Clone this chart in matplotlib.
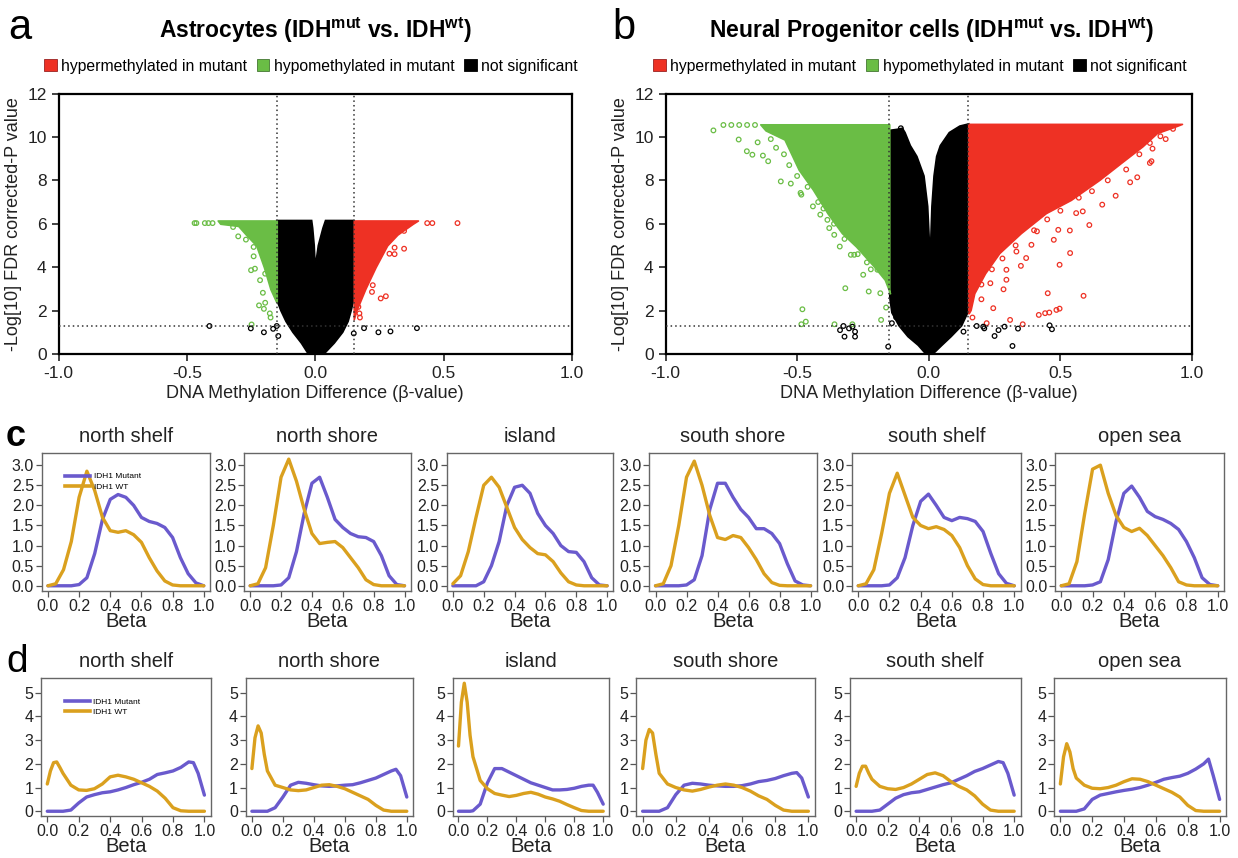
import numpy as np
import matplotlib
matplotlib.use("Agg")
import matplotlib.pyplot as plt
from matplotlib.patches import Patch
from matplotlib.lines import Line2D

plt.rcParams['font.family'] = ['Liberation Sans', 'DejaVu Sans']
plt.rcParams['mathtext.fontset'] = 'custom'
plt.rcParams['mathtext.rm'] = 'Liberation Sans'
plt.rcParams['mathtext.bf'] = 'Liberation Sans:bold'

RED = "#ee3124"
GREEN = "#6abd45"
PURPLE = "#6a5acd"
GOLD = "#daa01e"

# ---------------- volcano data (panel a: astrocytes) ----------------
# outline of the dense black (not significant) cloud, walked round from bottom-left
a_black_x = [-0.027, -0.054, -0.087, -0.114, -0.134, -0.15, -0.15, -0.014, -0.01, -0.004, 0.0,
             0.012, 0.03, 0.04, 0.15, 0.15, 0.14, 0.128, 0.107, 0.074, 0.034]
a_black_y = [0, 0.5, 1.0, 1.5, 2.0, 2.5, 6.15, 6.15, 5.8, 5.0, 4.0,
             5.0, 5.8, 6.15, 6.15, 2.5, 2.0, 1.5, 1.0, 0.5, 0]
a_green_y = [2.4, 3.0, 4.0, 5.0, 5.5, 5.9, 6.0, 6.15]
a_green_left = [-0.152, -0.175, -0.2, -0.23, -0.27, -0.30, -0.37, -0.38]
a_red_y = [1.6, 2.0, 3.0, 4.0, 5.0, 5.5, 6.0, 6.15]
a_red_right = [0.15, 0.16, 0.195, 0.235, 0.28, 0.32, 0.38, 0.40]
a_green_pts_x = [-0.47, -0.463, -0.43, -0.416, -0.40, -0.32, -0.30, -0.27, -0.24, -0.24,
                 -0.25, -0.235, -0.204, -0.219, -0.195, -0.2, -0.177, -0.174, -0.248, -0.215, -0.195]
a_green_pts_y = [6.03, 6.03, 6.03, 6.03, 6.03, 5.85, 5.42, 5.27, 4.93, 4.5,
                 3.86, 3.93, 2.82, 2.24, 2.36, 2.08, 1.87, 1.68, 1.36, 3.4, 3.7]
a_red_pts_x = [0.554, 0.456, 0.436, 0.346, 0.346, 0.309, 0.289, 0.309, 0.275, 0.255,
               0.224, 0.221, 0.168, 0.172, 0.174, 0.195]
a_red_pts_y = [6.03, 6.03, 6.03, 5.67, 4.85, 4.9, 4.62, 4.6, 2.66, 2.56,
               3.17, 2.86, 2.17, 1.87, 1.68, 3.7]
a_black_pts_x = [-0.412, -0.251, -0.2, -0.164, -0.15, -0.144, 0.15, 0.19, 0.246, 0.293, 0.396]
a_black_pts_y = [1.29, 1.18, 1.0, 1.16, 1.29, 0.83, 0.95, 1.19, 1.0, 1.04, 1.19]

# ---------------- volcano data (panel b: neural progenitors) ----------------
b_black_x = [-0.011, -0.04, -0.079, -0.113, -0.14, -0.148, -0.15, -0.12, -0.10, -0.09, -0.07,
             -0.045, -0.018, -0.004, 0.003, 0.007, 0.012, 0.02, 0.03, 0.044, 0.078, 0.118,
             0.152, 0.152, 0.148, 0.125, 0.085, 0.05, 0.016]
b_black_y = [0, 0.4, 0.8, 1.3, 1.9, 2.6, 10.3, 10.35, 10.4, 10.2, 9.6,
             9.1, 8.2, 6.8, 5.0, 5.0, 6.8, 8.2, 9.1, 9.6, 10.2, 10.5,
             10.6, 2.6, 1.9, 1.3, 0.8, 0.4, 0]
b_green_y = [2.8, 3.42, 4.03, 4.95, 5.57, 6.49, 7.57, 8.49, 9.88, 10.3, 10.58]
b_green_left = [-0.147, -0.167, -0.208, -0.276, -0.33, -0.385, -0.44, -0.494, -0.548, -0.62, -0.64]
b_red_y = [1.88, 2.03, 2.8, 3.72, 4.65, 5.57, 6.49, 7.1, 8.03, 8.8, 9.57, 10.18, 10.45, 10.6]
b_red_right = [0.152, 0.159, 0.173, 0.214, 0.268, 0.35, 0.445, 0.54, 0.649, 0.73, 0.812, 0.867, 0.93, 0.962]
b_green_pts_x = [-0.818, -0.78, -0.75, -0.72, -0.69, -0.66, -0.722, -0.691, -0.67, -0.65,
                 -0.63, -0.61, -0.562, -0.524, -0.487, -0.484, -0.44, -0.412, -0.385, -0.378,
                 -0.359, -0.338, -0.31, -0.296, -0.283, -0.249, -0.228, -0.317, -0.48, -0.467,
                 -0.484, -0.358, -0.29, -0.181, -0.184, -0.162, -0.235, -0.195,
                 -0.60, -0.58, -0.55, -0.53, -0.50, -0.46, -0.42, -0.40, -0.36, -0.32, -0.27, -0.22]
b_green_pts_y = [10.3, 10.55, 10.55, 10.55, 10.55, 10.55, 9.88, 9.34, 9.18, 9.75,
                 9.14, 8.88, 7.95, 7.85, 7.42, 7.34, 6.8, 6.42, 6.18, 5.8,
                 5.49, 4.95, 5.65, 4.57, 4.57, 3.65, 2.88, 3.03, 2.06, 1.49,
                 1.37, 1.37, 1.37, 1.57, 2.8, 2.14, 4.22, 3.88,
                 9.9, 9.5, 9.2, 8.7, 8.2, 7.7, 7.0, 6.7, 6.0, 5.3, 4.6, 3.9]
b_black_pts_x = [-0.337, -0.32, -0.324, -0.303, -0.29, -0.28, -0.28, -0.154, -0.14, -0.124,
                 -0.106, 0.182, 0.207, 0.211, 0.265, 0.25, 0.288, 0.318, 0.339, 0.468, 0.459, 0.132]
b_black_pts_y = [1.1, 0.8, 1.29, 1.18, 1.26, 0.8, 1.03, 0.34, 1.42, 1.69,
                 10.4, 1.29, 1.26, 1.18, 1.1, 0.83, 1.26, 0.37, 1.17, 1.14, 1.32, 1.03]
b_red_pts_x = [0.928, 0.88, 0.84, 0.85, 0.846, 0.84, 0.792, 0.765, 0.71, 0.659,
               0.61, 0.585, 0.56, 0.536, 0.492, 0.475, 0.411, 0.39, 0.35, 0.333,
               0.537, 0.497, 0.37, 0.295, 0.295, 0.284, 0.234, 0.452, 0.588, 0.418,
               0.442, 0.458, 0.485, 0.497, 0.245, 0.2, 0.22, 0.309, 0.357, 0.166,
               0.90, 0.80, 0.75, 0.68, 0.62, 0.57, 0.50, 0.45, 0.40, 0.33, 0.28, 0.24, 0.20]
b_red_pts_y = [10.37, 10.03, 9.72, 9.46, 8.88, 8.8, 8.14, 7.91, 7.29, 6.88,
               5.94, 6.57, 6.49, 5.69, 5.72, 5.26, 5.65, 5.03, 4.06, 4.72,
               4.65, 4.11, 4.42, 3.88, 3.42, 2.98, 3.26, 2.8, 2.68, 1.8,
               1.88, 1.91, 2.03, 2.09, 2.11, 2.52, 1.42, 1.57, 1.37, 1.68,
               9.9, 9.2, 8.5, 8.0, 7.5, 7.2, 6.6, 6.2, 5.7, 5.0, 4.4, 3.9, 3.2]

# ---------------- density data ----------------
regions = ["north shelf", "north shore", "island", "south shore", "south shelf", "open sea"]

beta_c = [0, 0.05, 0.1, 0.15, 0.2, 0.25, 0.3, 0.35, 0.4, 0.45, 0.5,
          0.55, 0.6, 0.65, 0.7, 0.75, 0.8, 0.85, 0.9, 0.95, 1.0]
c_mutant = [
    [0, 0, 0, 0, 0.03, 0.2, 0.8, 1.65, 2.15, 2.27, 2.2, 2.0, 1.7, 1.6, 1.55, 1.45, 1.2, 0.7, 0.3, 0.07, 0],
    [0, 0, 0, 0, 0.02, 0.2, 0.85, 1.8, 2.55, 2.7, 2.2, 1.65, 1.45, 1.3, 1.22, 1.2, 1.1, 0.75, 0.25, 0.03, 0],
    [0, 0, 0, 0, 0.1, 0.5, 1.1, 2.0, 2.45, 2.5, 2.3, 1.8, 1.5, 1.3, 1.0, 0.85, 0.83, 0.6, 0.2, 0.02, 0],
    [0, 0, 0, 0, 0.02, 0.15, 0.75, 1.9, 2.55, 2.55, 2.2, 1.9, 1.7, 1.42, 1.42, 1.3, 1.05, 0.55, 0.12, 0.02, 0],
    [0, 0, 0, 0, 0.02, 0.2, 0.7, 1.5, 2.1, 2.28, 2.0, 1.7, 1.62, 1.7, 1.67, 1.6, 1.35, 0.8, 0.3, 0.06, 0],
    [0, 0, 0, 0, 0.02, 0.1, 0.65, 1.6, 2.3, 2.48, 2.2, 1.85, 1.72, 1.65, 1.55, 1.4, 1.1, 0.7, 0.2, 0.03, 0],
]
c_wt = [
    [0, 0.05, 0.4, 1.1, 2.2, 2.85, 2.37, 1.7, 1.37, 1.33, 1.37, 1.27, 1.08, 0.7, 0.37, 0.12, 0.02, 0, 0, 0, 0],
    [0, 0.05, 0.45, 1.5, 2.7, 3.15, 2.6, 1.9, 1.3, 1.05, 1.08, 1.1, 0.95, 0.7, 0.45, 0.15, 0.03, 0, 0, 0, 0],
    [0.05, 0.25, 0.85, 1.7, 2.5, 2.7, 2.45, 1.95, 1.45, 1.15, 0.95, 0.8, 0.77, 0.6, 0.32, 0.1, 0.02, 0, 0, 0, 0],
    [0, 0.05, 0.5, 1.5, 2.7, 3.1, 2.5, 1.75, 1.2, 1.15, 1.25, 1.2, 0.95, 0.65, 0.3, 0.08, 0.01, 0, 0, 0, 0],
    [0, 0.05, 0.4, 1.3, 2.3, 2.8, 2.25, 1.7, 1.5, 1.42, 1.47, 1.4, 1.25, 0.95, 0.5, 0.17, 0.03, 0, 0, 0, 0],
    [0, 0.05, 0.6, 1.8, 2.9, 3.0, 2.3, 1.75, 1.45, 1.35, 1.43, 1.25, 1.0, 0.75, 0.45, 0.1, 0.02, 0, 0, 0, 0],
]

beta_d = [0, 0.02, 0.04, 0.06, 0.08, 0.1, 0.15, 0.2, 0.25, 0.3, 0.35, 0.4, 0.45,
          0.5, 0.55, 0.6, 0.65, 0.7, 0.75, 0.8, 0.85, 0.9, 0.93, 0.96, 1.0]
d_mutant = [
    [0, 0, 0, 0, 0, 0, 0.05, 0.35, 0.6, 0.7, 0.78, 0.82, 0.9, 1.0, 1.12, 1.22, 1.35, 1.55, 1.62, 1.7, 1.85, 2.08, 2.05, 1.6, 0.68],
    [0, 0, 0, 0, 0, 0, 0.15, 0.6, 1.1, 1.22, 1.18, 1.12, 1.07, 1.05, 1.07, 1.1, 1.12, 1.2, 1.3, 1.4, 1.55, 1.7, 1.77, 1.5, 0.6],
    [0, 0, 0, 0, 0, 0.02, 0.3, 1.2, 1.8, 1.8, 1.65, 1.5, 1.35, 1.2, 1.1, 1.0, 0.9, 0.9, 0.92, 0.97, 1.05, 1.1, 1.1, 0.8, 0.3],
    [0, 0, 0, 0, 0, 0, 0.15, 0.7, 1.1, 1.18, 1.15, 1.1, 1.07, 1.05, 1.05, 1.08, 1.15, 1.25, 1.3, 1.38, 1.5, 1.6, 1.63, 1.4, 0.6],
    [0, 0, 0, 0, 0, 0, 0.05, 0.3, 0.55, 0.7, 0.78, 0.82, 0.92, 1.02, 1.12, 1.2, 1.35, 1.5, 1.68, 1.8, 1.95, 2.1, 2.05, 1.6, 0.68],
    [0, 0, 0, 0, 0, 0, 0.1, 0.5, 0.68, 0.75, 0.82, 0.88, 0.93, 1.0, 1.1, 1.22, 1.35, 1.42, 1.48, 1.6, 1.78, 2.0, 2.2, 1.5, 0.5],
]
d_wt = [
    [1.15, 1.7, 2.05, 2.08, 1.85, 1.6, 1.1, 0.9, 0.88, 0.95, 1.15, 1.45, 1.52, 1.45, 1.35, 1.2, 1.05, 0.85, 0.55, 0.15, 0.02, 0, 0, 0, 0],
    [1.8, 3.1, 3.6, 3.3, 2.4, 1.7, 1.1, 1.0, 0.9, 0.87, 0.9, 1.0, 1.1, 1.12, 1.05, 0.95, 0.8, 0.65, 0.5, 0.25, 0.05, 0, 0, 0, 0],
    [2.75, 4.6, 5.4, 4.6, 3.2, 2.3, 1.3, 0.95, 0.75, 0.68, 0.62, 0.67, 0.75, 0.8, 0.72, 0.6, 0.52, 0.42, 0.28, 0.15, 0.03, 0, 0, 0, 0],
    [1.8, 3.0, 3.45, 3.3, 2.4, 1.6, 1.15, 1.0, 0.9, 0.85, 0.92, 1.02, 1.1, 1.15, 1.1, 1.0, 0.85, 0.65, 0.5, 0.25, 0.05, 0, 0, 0, 0],
    [1.05, 1.6, 1.9, 1.9, 1.6, 1.35, 1.05, 0.95, 0.92, 1.0, 1.15, 1.35, 1.55, 1.62, 1.5, 1.25, 1.05, 0.9, 0.65, 0.3, 0.05, 0, 0, 0, 0],
    [1.15, 2.3, 2.85, 2.5, 1.8, 1.4, 1.1, 0.97, 0.95, 1.0, 1.1, 1.25, 1.37, 1.35, 1.25, 1.1, 0.95, 0.8, 0.6, 0.25, 0.03, 0, 0, 0, 0],
]

W, H = 1238, 858
fig = plt.figure(figsize=(W / 100, H / 100), dpi=100)


def box(l, t, r, b):
    return [l / W, 1 - b / H, (r - l) / W, (b - t) / H]


def volcano(ax, blk, grn, red, gpts, rpts, kpts):
    ax.fill(blk[0], blk[1], color="black", lw=1.2, ec="black", zorder=2)
    ax.fill_betweenx(grn[0], grn[1], -0.15, color=GREEN, ec=GREEN, lw=1.2, zorder=2)
    ax.fill_betweenx(red[0], 0.15, red[1], color=RED, ec=RED, lw=1.2, zorder=2)
    ax.scatter(gpts[0], gpts[1], s=11, facecolors="none", edgecolors=GREEN, linewidths=0.9, zorder=4)
    ax.scatter(rpts[0], rpts[1], s=11, facecolors="none", edgecolors=RED, linewidths=0.9, zorder=4)
    ax.scatter(kpts[0], kpts[1], s=11, facecolors="none", edgecolors="black", linewidths=0.9, zorder=4)
    for xv in (-0.15, 0.15):
        ax.axvline(xv, color="#333333", ls=(0, (1, 2)), lw=1.1, zorder=5)
    ax.axhline(1.3, color="#333333", ls=(0, (1, 2)), lw=1.1, zorder=5)
    ax.set_xlim(-1, 1)
    ax.set_ylim(0, 12)
    ax.set_xticks([-1, -0.5, 0, 0.5, 1])
    ax.set_xticklabels(["-1.0", "-0.5", "0.0", "0.5", "1.0"])
    ax.set_yticks(range(0, 13, 2))
    ax.tick_params(labelsize=12.5, length=5, width=1.2, colors="#222222")
    for s in ax.spines.values():
        s.set_linewidth(1.6)
    ax.set_xlabel("DNA Methylation Difference (β-value)", fontsize=13, color="#222222", labelpad=3)
    ax.set_ylabel("-Log[10] FDR corrected-P value", fontsize=13, color="#222222", labelpad=4)


axa = fig.add_axes(box(58.5, 93.5, 572, 354))
volcano(axa, (a_black_x, a_black_y), (a_green_y, a_green_left), (a_red_y, a_red_right),
        (a_green_pts_x, a_green_pts_y), (a_red_pts_x, a_red_pts_y), (a_black_pts_x, a_black_pts_y))
axb = fig.add_axes(box(665.5, 93.5, 1192, 354))
volcano(axb, (b_black_x, b_black_y), (b_green_y, b_green_left), (b_red_y, b_red_right),
        (b_green_pts_x, b_green_pts_y), (b_red_pts_x, b_red_pts_y), (b_black_pts_x, b_black_pts_y))

fig.text(315 / W, 1 - 30 / H, r"Astrocytes (IDH$^{\mathbf{mut}}$ vs. IDH$^{\mathbf{wt}}$)",
         fontsize=16.5, fontweight="bold", ha="center", va="center")
fig.text(932 / W, 1 - 30 / H, r"Neural Progenitor cells (IDH$^{\mathbf{mut}}$ vs. IDH$^{\mathbf{wt}}$)",
         fontsize=16.5, fontweight="bold", ha="center", va="center")

leg_handles = [Patch(fc=RED, ec="#992222", lw=0.6), Patch(fc=GREEN, ec="#447733", lw=0.6),
               Patch(fc="black", ec="black", lw=0.6)]
leg_labels = ["hypermethylated in mutant", "hypomethylated in mutant", "not significant"]
for cx in (311, 920):
    fig.legend(leg_handles, leg_labels, loc="center", bbox_to_anchor=(cx / W, 1 - 66 / H), ncol=3,
               frameon=False, fontsize=11.3, handlelength=0.8, handleheight=0.8,
               handletextpad=0.3, columnspacing=0.6)

# panel letters
fig.text(8 / W, 1 - 28 / H, "a", fontsize=30, va="center")
fig.text(612 / W, 1 - 28 / H, "b", fontsize=30, va="center")
fig.text(6 / W, 1 - 437 / H, "c", fontsize=26, fontweight="bold", va="center")
fig.text(6 / W, 1 - 662 / H, "d", fontsize=28, va="center")

c_boxes = [(41.7, 210), (244, 410.7), (446.7, 613.3), (649.3, 816.8), (852, 1020.5), (1055, 1224)]
d_boxes = [(41, 210.7), (245.7, 413), (452.7, 609), (636, 815), (849.8, 1020.5), (1054, 1226)]


def density(ax, xs, mut, wt, ylim, yticks, ylabels, title, legend_y):
    ax.plot(xs, mut, color=PURPLE, lw=2.4, solid_joinstyle="round", solid_capstyle="round")
    ax.plot(xs, wt, color=GOLD, lw=2.4, solid_joinstyle="round", solid_capstyle="round")
    ax.set_xlim(-0.04, 1.04)
    ax.set_ylim(*ylim)
    ax.set_xticks([0, 0.2, 0.4, 0.6, 0.8, 1.0])
    ax.set_xticklabels(["0.0", "0.2", "0.4", "0.6", "0.8", "1.0"])
    ax.set_yticks(yticks)
    ax.set_yticklabels(ylabels)
    ax.tick_params(labelsize=11.5, length=4, width=0.9, color="#555555", labelcolor="#222222", pad=1.5)
    for s in ax.spines.values():
        s.set_linewidth(1.0)
        s.set_color("#666666")
    ax.set_xlabel("Beta", fontsize=14.5, labelpad=-1, color="#222222")
    ax.set_title(title, fontsize=14.5, pad=8, color="#222222")
    if legend_y is not None:
        h = [Line2D([], [], color=PURPLE, lw=2.6), Line2D([], [], color=GOLD, lw=2.6)]
        ax.legend(h, ["IDH1 Mutant", "IDH1 WT"], loc="upper left", bbox_to_anchor=(0.12, legend_y),
                  frameon=False, fontsize=6, handlelength=3, handletextpad=0.4, labelspacing=0.3,
                  borderaxespad=0)


for i, (l, r) in enumerate(c_boxes):
    ax = fig.add_axes(box(l, 452.7, r, 591))
    density(ax, beta_c, c_mutant[i], c_wt[i], (-0.13, 3.31), [0, 0.5, 1, 1.5, 2, 2.5, 3],
            ["0.0", "0.5", "1.0", "1.5", "2.0", "2.5", "3.0"], regions[i], 0.88 if i == 0 else None)

for i, (l, r) in enumerate(d_boxes):
    ax = fig.add_axes(box(l, 678, r, 816))
    density(ax, beta_d, d_mutant[i], d_wt[i], (-0.2, 5.62), [0, 1, 2, 3, 4, 5],
            ["0", "1", "2", "3", "4", "5"], regions[i], 0.88 if i == 0 else None)

fig.savefig("out.png", dpi=100)
